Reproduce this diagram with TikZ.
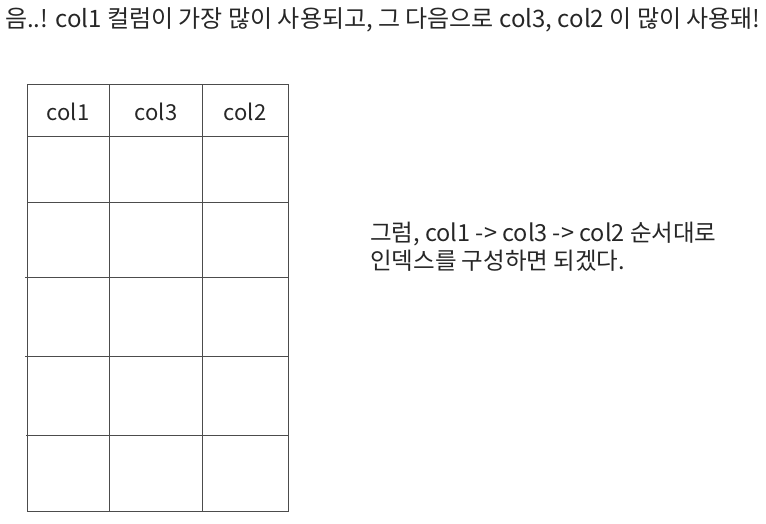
\documentclass[tikz,border=0pt]{standalone}
\usepackage{fontspec}
\setmainfont{Noto Sans CJK KR}
\usepackage{tikz}
\usetikzlibrary{positioning}

\tikzset{
  gridline/.style={line width=1pt, draw=black!70},
  colhead/.style={font=\fontsize{22}{26}\selectfont, text=black!85},
  note/.style={font=\fontsize{23.5}{28}\selectfont, text=black!85, align=left}
}

\begin{document}
\begin{tikzpicture}[x=1pt,y=-1pt]
\useasboundingbox (0,0) rectangle (766,524);
% top line
\node[note, font=\fontsize{24}{28}\selectfont, anchor=west, inner sep=0pt] (remark) at (5,20) {음..! col1 컬럼이 가장 많이 사용되고, 그 다음으로 col3, col2 이 많이 사용돼!};

% table
\draw[gridline] (27,85) rectangle (288,511);
\draw[gridline] (109,85) -- (109,511);
\draw[gridline] (202,85) -- (202,511);
\draw[gridline] (27,137) -- (288,137);
\draw[gridline] (28,202) -- (288,202);
\draw[gridline] (25,277) -- (288,277);
\draw[gridline] (25,356) -- (288,356);
\draw[gridline] (26,435) -- (288,435);

\node[colhead] (head1) at (68,112) {col1};
\node[colhead] (head3) at (156,112) {col3};
\node[colhead] (head2) at (245,112) {col2};

% conclusion
\node[note, anchor=west, inner sep=0pt] (plan) at (370,247) {그럼, col1 -> col3 -> col2 순서대로\\인덱스를 구성하면 되겠다.};
\end{tikzpicture}
\end{document}
